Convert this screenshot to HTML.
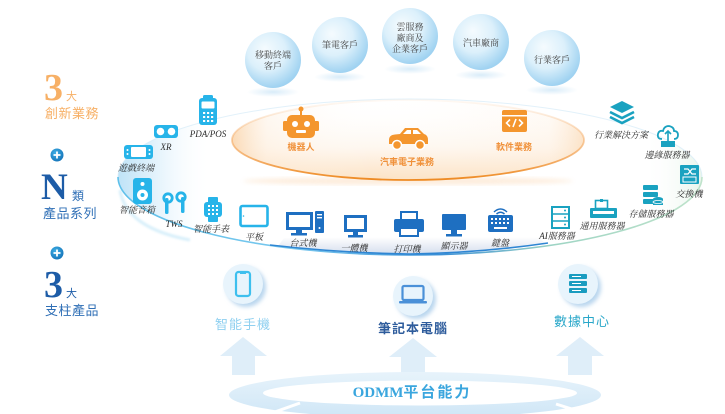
<!DOCTYPE html>
<html><head><meta charset="utf-8">
<style>
html,body{margin:0;padding:0;background:#fff;}
svg{display:block;}
.dl{font-family:"Liberation Serif","Noto Serif CJK SC",serif;font-style:italic;font-size:9px;fill:#2b2b2b;text-anchor:middle;}
.bt{font-family:"Liberation Serif","Noto Serif CJK SC",serif;font-size:9px;fill:#444;text-anchor:middle;}
.ol{font-family:"Liberation Sans","Noto Sans CJK SC",sans-serif;font-size:9px;fill:#f0913a;text-anchor:middle;font-weight:bold;}
.sans{font-family:"Liberation Sans","Noto Sans CJK SC",sans-serif;}
.ser{font-family:"Liberation Serif","Noto Serif CJK SC",serif;font-weight:bold;}
</style></head>
<body>
<svg width="725" height="414" viewBox="0 0 725 414" xmlns="http://www.w3.org/2000/svg">
<defs>
  <radialGradient id="bub" cx="0.42" cy="0.38" r="0.62" fx="0.35" fy="0.3">
    <stop offset="0" stop-color="#f5fbfe"/>
    <stop offset="0.55" stop-color="#dcf0fb"/>
    <stop offset="1" stop-color="#9fd2f1"/>
  </radialGradient>
  <radialGradient id="refl" cx="0.5" cy="0.5" r="0.5">
    <stop offset="0" stop-color="#cfe7f7" stop-opacity="0.8"/>
    <stop offset="1" stop-color="#cfe7f7" stop-opacity="0"/>
  </radialGradient>
  <linearGradient id="bigstroke" x1="0" y1="0" x2="1" y2="0">
    <stop offset="0" stop-color="#5ec0ea"/>
    <stop offset="0.3" stop-color="#79c8ee"/>
    <stop offset="0.55" stop-color="#3a8fd6"/>
    <stop offset="0.75" stop-color="#9fd5c4"/>
    <stop offset="1" stop-color="#bfe3cb"/>
  </linearGradient>
  <linearGradient id="bigfill" x1="0" y1="0" x2="1" y2="0">
    <stop offset="0" stop-color="#bfe3f7"/>
    <stop offset="0.07" stop-color="#e6f4fc"/>
    <stop offset="0.16" stop-color="#ffffff" stop-opacity="0"/>
    <stop offset="0.9" stop-color="#ffffff" stop-opacity="0"/>
    <stop offset="1" stop-color="#e9f5ec"/>
  </linearGradient>
  <linearGradient id="orfill" x1="0" y1="0" x2="0" y2="1">
    <stop offset="0" stop-color="#ffffff" stop-opacity="0"/>
    <stop offset="0.6" stop-color="#fef7ef"/>
    <stop offset="1" stop-color="#fce2c4"/>
  </linearGradient>
  <linearGradient id="orside" x1="0" y1="0" x2="1" y2="0">
    <stop offset="0" stop-color="#f9cc9a" stop-opacity="0.7"/>
    <stop offset="0.1" stop-color="#fde8d2" stop-opacity="0.3"/>
    <stop offset="0.4" stop-color="#ffffff" stop-opacity="0"/>
    <stop offset="0.9" stop-color="#fde8d2" stop-opacity="0.2"/>
    <stop offset="1" stop-color="#f9cc9a" stop-opacity="0.5"/>
  </linearGradient>
  <linearGradient id="orstroke" x1="0" y1="0" x2="0" y2="1">
    <stop offset="0" stop-color="#f6b477" stop-opacity="0.08"/>
    <stop offset="0.5" stop-color="#f3a255" stop-opacity="0.5"/>
    <stop offset="1" stop-color="#ee8a22"/>
  </linearGradient>
  <linearGradient id="strip" x1="0" y1="0" x2="0" y2="1">
    <stop offset="0" stop-color="#ffffff"/>
    <stop offset="1" stop-color="#d5deee"/>
  </linearGradient>
  <radialGradient id="plus" cx="0.4" cy="0.35" r="0.7">
    <stop offset="0" stop-color="#3fb0e6"/>
    <stop offset="1" stop-color="#1473b8"/>
  </radialGradient>
  <linearGradient id="ring" x1="0" y1="0" x2="0" y2="1">
    <stop offset="0" stop-color="#e7f3fb"/>
    <stop offset="1" stop-color="#cfe6f6"/>
  </linearGradient>
  <filter id="blur2"><feGaussianBlur stdDeviation="2"/></filter>
  <filter id="blur1"><feGaussianBlur stdDeviation="1"/></filter>
</defs>

<!-- Top bubbles -->
<ellipse cx="273" cy="92" rx="26" ry="5" fill="url(#refl)"/>
<ellipse cx="340" cy="77" rx="26" ry="5" fill="url(#refl)"/>
<ellipse cx="410" cy="69" rx="26" ry="5" fill="url(#refl)"/>
<ellipse cx="481" cy="75" rx="26" ry="5" fill="url(#refl)"/>
<ellipse cx="552" cy="90" rx="26" ry="5" fill="url(#refl)"/>
<circle cx="273" cy="60" r="28" fill="url(#bub)"/>
<circle cx="340" cy="45" r="28" fill="url(#bub)"/>
<circle cx="410" cy="36" r="28" fill="url(#bub)"/>
<circle cx="481" cy="42" r="28" fill="url(#bub)"/>
<circle cx="552" cy="58" r="28" fill="url(#bub)"/>
<text class="bt" x="273" y="58">移動終端</text>
<text class="bt" x="273" y="69">客戶</text>
<text class="bt" x="340" y="48">筆電客戶</text>
<text class="bt" x="410" y="30">雲服務</text>
<text class="bt" x="410" y="41">廠商及</text>
<text class="bt" x="410" y="52">企業客戶</text>
<text class="bt" x="481" y="46">汽車廠商</text>
<text class="bt" x="552" y="63">行業客戶</text>

<!-- Big ellipse -->
<ellipse cx="410" cy="177" rx="292" ry="78" fill="url(#bigfill)"/>
<path d="M 118 177 A 292 78 0 0 0 702 177" fill="none" stroke="url(#bigstroke)" stroke-width="1.6"/>
<path d="M 118 177 A 292 78 0 0 1 702 177" fill="none" stroke="#cfe8f6" stroke-width="1" opacity="0.6"/>
<path d="M 120 190 Q 126 228 190 240" fill="none" stroke="#8fd2f1" stroke-width="3" opacity="0.35" filter="url(#blur1)"/>

<!-- Bottom strip -->
<path d="M 284 238 L 538 237 L 546 244 Q 470 253 410 254 Q 340 253 278 246 Z" fill="url(#strip)"/>
<path d="M 270 245 Q 340 253 410 254 Q 480 253 548 243" fill="none" stroke="#2f86d3" stroke-width="1.6"/>

<!-- Orange ellipse -->
<ellipse cx="408" cy="181" rx="165" ry="4" fill="#f7b97a" opacity="0.25" filter="url(#blur2)"/>
<ellipse cx="408" cy="140" rx="176" ry="40" fill="url(#orfill)"/>
<ellipse cx="408" cy="140" rx="176" ry="40" fill="url(#orside)"/>
<ellipse cx="408" cy="140" rx="176" ry="40" fill="none" stroke="url(#orstroke)" stroke-width="1.8"/>

<!-- Orange icons -->
<g fill="#f4962e">
  <rect x="300" y="109" width="2" height="7"/>
  <circle cx="301" cy="109" r="2.5"/>
  <rect x="283" y="121" width="5" height="10" rx="1.5"/>
  <rect x="314" y="121" width="5" height="10" rx="1.5"/>
  <rect x="287" y="115" width="28" height="23" rx="5"/>
</g>
<circle cx="295" cy="124" r="3" fill="#fff"/>
<circle cx="307" cy="124" r="3" fill="#fff"/>
<rect x="296" y="130" width="10" height="3" rx="1" fill="#fff"/>
<text class="ol" x="301" y="150">機器人</text>

<path d="M389 140 Q389 135 395 134.5 L400 134 L405 128 L418 128 L424 134 Q428 135 428 140 L428 144 L389 144 Z" fill="#f4962e"/>
<path d="M403 134 L407 130 L411 130 L411 134 Z M413 134 L413 130 L417 130 L421 134 Z" fill="#fff"/>
<circle cx="397" cy="145" r="4.5" fill="#f4962e" stroke="#fff" stroke-width="1.5"/>
<circle cx="420" cy="145" r="4.5" fill="#f4962e" stroke="#fff" stroke-width="1.5"/>
<text class="ol" x="407" y="165">汽車電子業務</text>

<rect x="502" y="110" width="25" height="22" rx="2" fill="#f4962e"/>
<rect x="502" y="115" width="25" height="1.5" fill="#fff"/>
<path d="M510 119.5 L506.5 123 L510 126.5 M519 119.5 L522.5 123 L519 126.5 M516 119 L513 127" fill="none" stroke="#fff" stroke-width="1.6"/>
<text class="ol" x="514" y="150">軟件業務</text>

<!-- Cyan group -->
<g fill="#27b4e9">
  <rect x="203" y="95" width="10" height="5" rx="1.5"/>
  <rect x="199" y="98" width="18" height="27" rx="3"/>
  <rect x="154" y="125" width="24" height="13" rx="3"/>
  <rect x="124" y="145" width="29" height="14" rx="3"/>
  <rect x="133" y="178" width="19" height="26" rx="3"/>
  <rect x="208" y="197" width="10" height="25" rx="1"/>
  <rect x="204" y="202" width="18" height="15" rx="3"/>
</g>
<rect x="201.5" y="101.5" width="13" height="7" rx="1" fill="#fff"/>
<g fill="#fff">
  <rect x="203" y="112" width="2.2" height="2"/><rect x="207" y="112" width="2.2" height="2"/><rect x="211" y="112" width="2.2" height="2"/>
  <rect x="203" y="116" width="2.2" height="2"/><rect x="207" y="116" width="2.2" height="2"/><rect x="211" y="116" width="2.2" height="2"/>
  <rect x="203" y="120" width="2.2" height="2"/><rect x="207" y="120" width="2.2" height="2"/><rect x="211" y="120" width="2.2" height="2"/>
  <circle cx="160.5" cy="131.5" r="3.8"/><circle cx="171.5" cy="131.5" r="3.8"/>
  <rect x="131" y="147" width="15" height="10" rx="1"/>
  <circle cx="127.5" cy="150" r="1"/><circle cx="127.5" cy="154" r="1"/><circle cx="149.5" cy="150" r="1"/><circle cx="149.5" cy="154" r="1"/>
  <circle cx="142.5" cy="195" r="5.5"/><circle cx="142.5" cy="184" r="2"/>
  <rect x="208" y="205" width="2" height="2"/><rect x="212" y="205" width="2" height="2"/><rect x="216" y="205" width="2" height="2"/>
  <rect x="208" y="209" width="2" height="2"/><rect x="212" y="209" width="2" height="2"/><rect x="216" y="209" width="2" height="2"/>
  <rect x="208" y="213" width="2" height="2"/><rect x="212" y="213" width="2" height="2"/><rect x="216" y="213" width="2" height="2"/>
</g>
<circle cx="142.5" cy="195" r="2" fill="#27b4e9"/>
<circle cx="168" cy="198" r="4.2" fill="#fff" stroke="#27b4e9" stroke-width="2.8"/>
<rect x="165" y="198" width="3.5" height="16" rx="1.5" fill="#27b4e9"/>
<circle cx="181" cy="197" r="4.2" fill="#fff" stroke="#27b4e9" stroke-width="2.8"/>
<rect x="181" y="197" width="3.5" height="16" rx="1.5" fill="#27b4e9"/>
<rect x="240.5" y="206" width="27" height="20" rx="2" fill="#fff" stroke="#27b4e9" stroke-width="2.6"/>
<circle cx="243.5" cy="216" r="0.8" fill="#27b4e9"/>
<text class="dl" x="208" y="137">PDA/POS</text>
<text class="dl" x="166" y="150">XR</text>
<text class="dl" x="136" y="171">遊戲終端</text>
<text class="dl" x="137" y="213">智能音箱</text>
<text class="dl" x="174" y="227">TWS</text>
<text class="dl" x="211" y="232">智能手表</text>
<text class="dl" x="254" y="240">平板</text>

<!-- Blue group -->
<g fill="#1e6fc1">
  <rect x="296" y="229" width="6" height="4"/><rect x="291" y="233" width="16" height="2.5"/>
  <rect x="315" y="211" width="9" height="22" rx="1"/>
  <rect x="353" y="231" width="5" height="4"/><rect x="348" y="235" width="15" height="2.5"/>
  <rect x="394" y="219" width="30" height="13" rx="2"/>
  <rect x="442" y="214" width="24" height="16" rx="1"/>
  <rect x="451" y="230" width="6" height="4"/><rect x="446" y="234" width="16" height="2.5"/>
  <rect x="488" y="215" width="25" height="17" rx="2"/>
</g>
<rect x="287.5" y="213.5" width="24" height="15" fill="#fff" stroke="#1e6fc1" stroke-width="3"/>
<rect x="317" y="214" width="5" height="1.4" fill="#fff"/><rect x="317" y="217" width="5" height="1.4" fill="#fff"/><circle cx="319.5" cy="228" r="1" fill="#fff"/>
<rect x="345.5" y="216.5" width="20" height="14" fill="#fff" stroke="#1e6fc1" stroke-width="3"/>
<rect x="401" y="212" width="16" height="8" fill="#fff" stroke="#1e6fc1" stroke-width="2"/>
<rect x="400" y="228" width="18" height="8" fill="#fff" stroke="#1e6fc1" stroke-width="2"/>
<path d="M494 212 Q500.5 206 507 212 M496.5 214 Q500.5 210.5 504.5 214" fill="none" stroke="#1e6fc1" stroke-width="1.5"/>
<g fill="#fff">
  <rect x="491" y="218" width="2" height="2"/><rect x="495" y="218" width="2" height="2"/><rect x="499" y="218" width="2" height="2"/><rect x="503" y="218" width="2" height="2"/><rect x="507" y="218" width="2" height="2"/>
  <rect x="491" y="222" width="2" height="2"/><rect x="495" y="222" width="2" height="2"/><rect x="499" y="222" width="2" height="2"/><rect x="503" y="222" width="2" height="2"/><rect x="507" y="222" width="2" height="2"/>
  <rect x="494" y="227" width="13" height="2"/>
</g>
<text class="dl" x="303" y="246">台式機</text>
<text class="dl" x="354" y="251">一體機</text>
<text class="dl" x="407" y="252">打印機</text>
<text class="dl" x="454" y="249">顯示器</text>
<text class="dl" x="500" y="246">鍵盤</text>

<!-- Teal group -->
<polygon points="622,101 634,107 622,113 610,107" fill="#1aa2c0"/>
<polyline points="610,112 622,118 634,112" fill="none" stroke="#1aa2c0" stroke-width="2.6"/>
<polyline points="610,117 622,123 634,117" fill="none" stroke="#1aa2c0" stroke-width="2.6"/>
<path d="M662 139 Q657 139 658 134 Q659 130 663 131 Q664 126 669 126 Q674 127 674 131 Q678 131 678 135 Q678 139 674 139" fill="none" stroke="#1aa2c0" stroke-width="1.8"/>
<path d="M668 141 L668 131 M665 134 L668 131 L671 134" fill="none" stroke="#1aa2c0" stroke-width="1.6"/>
<rect x="661" y="141" width="14" height="6" fill="#1aa2c0"/>
<rect x="680" y="165" width="19" height="19" rx="1" fill="#1aa2c0"/>
<path d="M684 169 L688 169 L692 174 L696 174 M684 174 L688 174 L692 169 L696 169" fill="none" stroke="#fff" stroke-width="1.2"/>
<rect x="683" y="177" width="13" height="5" fill="none" stroke="#fff" stroke-width="1"/>
<g fill="#1aa2c0">
  <rect x="643" y="185" width="15" height="5" rx="1"/>
  <rect x="643" y="192" width="15" height="5" rx="1"/>
  <rect x="643" y="199" width="12" height="5" rx="1"/>
  <ellipse cx="658" cy="199" rx="5" ry="2"/>
  <rect x="653" y="199" width="10" height="6"/>
  <rect x="590" y="208" width="27" height="10" rx="1"/>
</g>
<ellipse cx="658" cy="202" rx="5" ry="1.5" fill="none" stroke="#fff" stroke-width="0.8"/>
<rect x="595.5" y="200.5" width="12" height="8" fill="#fff" stroke="#1aa2c0" stroke-width="1.6"/>
<rect x="600" y="199" width="3" height="3" fill="#1aa2c0"/>
<rect x="593" y="211" width="21" height="3" fill="#fff"/>
<rect x="552" y="207" width="17" height="21" fill="#fff" stroke="#1aa2c0" stroke-width="2"/>
<path d="M552 214 L569 214 M552 221 L569 221" stroke="#1aa2c0" stroke-width="1.6"/>
<circle cx="565" cy="210.5" r="1" fill="#1aa2c0"/><circle cx="565" cy="217.5" r="1" fill="#1aa2c0"/><circle cx="565" cy="224.5" r="1" fill="#1aa2c0"/>
<text class="dl" x="621" y="138">行業解決方案</text>
<text class="dl" x="667" y="158">邊緣服務器</text>
<text class="dl" x="689" y="197">交換機</text>
<text class="dl" x="651" y="217">存儲服務器</text>
<text class="dl" x="602" y="229">通用服務器</text>
<text class="dl" x="557" y="239">AI服務器</text>

<!-- Left texts -->
<text class="ser" x="44" y="100" font-size="38" fill="#f7b066">3</text>
<text class="sans" x="66" y="100" font-size="11" fill="#f7b066">大</text>
<text class="sans" x="45" y="118" font-size="13" fill="#f7b066" letter-spacing="0.5">創新業務</text>
<circle cx="57" cy="155" r="6.5" fill="url(#plus)"/>
<path d="M53.5 155 L60.5 155 M57 151.5 L57 158.5" stroke="#fff" stroke-width="1.8"/>
<text class="ser" x="41" y="199" font-size="37" fill="#1d5ca7">N</text>
<text class="sans" x="72" y="200" font-size="12" fill="#2f6fb6">類</text>
<text class="sans" x="43" y="218" font-size="13" fill="#2f6fb6" letter-spacing="0.5">產品系列</text>
<circle cx="57" cy="253" r="6.5" fill="url(#plus)"/>
<path d="M53.5 253 L60.5 253 M57 249.5 L57 256.5" stroke="#fff" stroke-width="1.8"/>
<text class="ser" x="44" y="297" font-size="38" fill="#1d5ca7">3</text>
<text class="sans" x="66" y="297" font-size="11" fill="#1d5ca7">大</text>
<text class="sans" x="45" y="315" font-size="13" fill="#2f6fb6" letter-spacing="0.5">支柱產品</text>

<!-- Bottom circles -->
<circle cx="246" cy="287" r="20" fill="#b9d6ee" filter="url(#blur2)"/>
<circle cx="243" cy="284" r="20" fill="#e8f4fc"/>
<rect x="236" y="272" width="14" height="24" rx="2.5" fill="none" stroke="#3dbfee" stroke-width="2.2"/>
<rect x="240" y="272" width="6" height="2" fill="#3dbfee"/>
<circle cx="416" cy="299" r="20" fill="#b9d6ee" filter="url(#blur2)"/>
<circle cx="413" cy="296" r="20" fill="#e8f4fc"/>
<rect x="402.5" y="286" width="21" height="14" rx="1.5" fill="none" stroke="#4a90d8" stroke-width="2.2"/>
<rect x="399" y="301" width="28" height="2.5" rx="1" fill="#4a90d8"/>
<circle cx="581" cy="287" r="20" fill="#b9d6ee" filter="url(#blur2)"/>
<circle cx="578" cy="284" r="20" fill="#e8f4fc"/>
<g fill="#1a9cc0">
  <rect x="569" y="274" width="18" height="5" rx="1"/>
  <rect x="569" y="281" width="18" height="5" rx="1"/>
  <rect x="569" y="288" width="18" height="5" rx="1"/>
</g>
<rect x="572" y="276" width="9" height="1" fill="#fff"/><rect x="572" y="283" width="9" height="1" fill="#fff"/><rect x="572" y="290" width="9" height="1" fill="#fff"/>
<text class="sans" x="243" y="329" font-size="13" fill="#8fd0f0" text-anchor="middle" letter-spacing="1">智能手機</text>
<text class="sans" x="413" y="333" font-size="13" fill="#2e5c9c" text-anchor="middle" letter-spacing="1" font-weight="bold">筆記本電腦</text>
<text class="sans" x="582" y="326" font-size="13" fill="#29a7c9" text-anchor="middle" letter-spacing="1">數據中心</text>

<!-- Arrows -->
<g fill="#dfeef9">
  <polygon points="243,337 267,356 255,356 255,375 232,375 232,356 220,356"/>
  <polygon points="413,338 437,357 425,357 425,377 401,377 401,357 389,357"/>
  <polygon points="580,337 604,356 592,356 592,375 568,375 568,356 556,356"/>
</g>

<!-- ODMM ring -->
<ellipse cx="415" cy="395" rx="186" ry="23" fill="url(#ring)"/>
<ellipse cx="420" cy="393" rx="157" ry="12.5" fill="#fff"/>
<path d="M258 418 L300 403 M556 404 L600 418" stroke="#fff" stroke-width="3"/>
<text x="412" y="397" text-anchor="middle" font-size="15" fill="#3aa6de" font-weight="bold" font-family="Liberation Serif, Noto Serif CJK SC, serif">ODMM<tspan font-family="Liberation Sans, Noto Sans CJK SC, sans-serif" letter-spacing="2">平台能力</tspan></text>
</svg>
</body></html>
